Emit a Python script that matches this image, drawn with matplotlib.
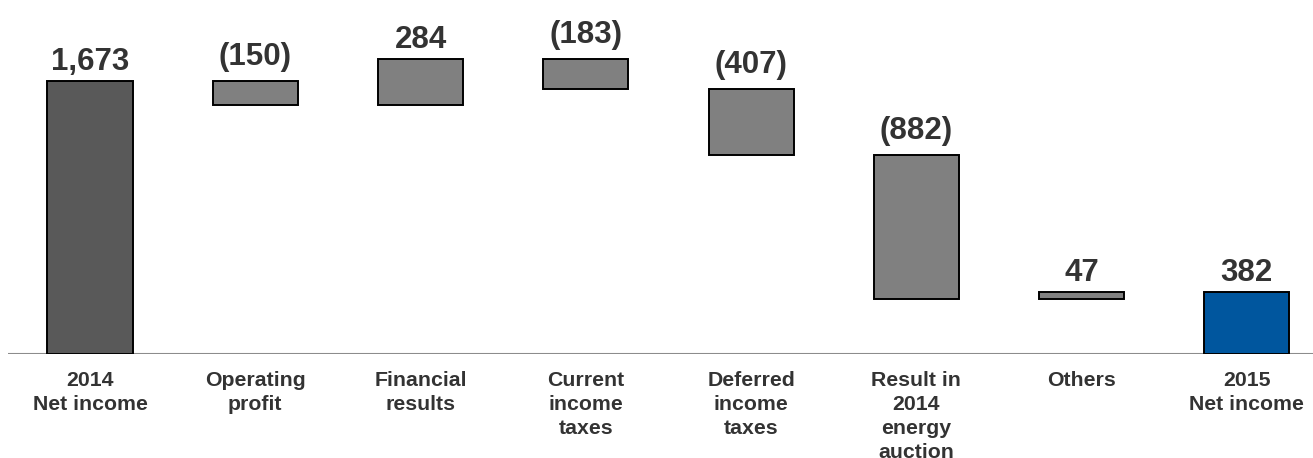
import matplotlib
matplotlib.use("Agg")
import matplotlib.pyplot as plt
import numpy as np

categories = ["2014\nNet income", "Operating\nprofit", "Financial\nresults", "Current\nincome\ntaxes",
              "Deferred\nincome\ntaxes", "Result in\n2014\nenergy\nauction", "Others", "2015\nNet income"]
values = [1673, -150, 284, -183, -407, -882, 47, 382]
value_labels = ["1,673", "(150)", "284", "(183)", "(407)", "(882)", "47", "382"]
kinds = ["total", "delta", "delta", "delta", "delta", "delta", "delta", "total"]

plt.rcParams['font.family'] = ['Liberation Sans', 'DejaVu Sans']
text_color = "#333333"

fig = plt.figure(figsize=(13.13, 4.58), dpi=100)
ax = fig.add_axes([8 / 1313, (458 - 354) / 458, 1 - 8 / 1313, 354 / 458])

bottoms, heights, colors = [], [], []
running = 0
for i, (v, k) in enumerate(zip(values, kinds)):
    if k == "total":
        bottoms.append(0)
        heights.append(v)
        running = v
        colors.append("#595959" if i == 0 else "#00569E")
    else:
        start, end = running, running + v
        bottoms.append(min(start, end))
        heights.append(abs(v))
        running = end
        colors.append("#808080")

x = np.arange(len(categories))
ax.bar(x, heights, bottom=bottoms, width=0.515, color=colors, edgecolor="black", linewidth=1.4, zorder=3)

for xi, b, h, lab, v in zip(x, bottoms, heights, value_labels, values):
    off = 16 if v < 0 else 11
    ax.annotate(lab, (xi, b + h), xytext=(0, off * 0.72), textcoords="offset points",
                ha="center", va="baseline", fontsize=22.5, fontweight="bold", color=text_color)

ax.axhline(0, color="#8c8c8c", linewidth=1.5, zorder=2)
ax.set_xlim(-0.496, 7.40)
ax.set_ylim(0, 2169)
ax.set_xticks(x)
ax.set_xticklabels(categories, fontsize=15.3, fontweight="bold", color=text_color, linespacing=1.34)
ax.tick_params(axis="x", length=0, pad=12)
ax.set_yticks([])
for s in ax.spines.values():
    s.set_visible(False)

fig.savefig("out.png", dpi=100)
